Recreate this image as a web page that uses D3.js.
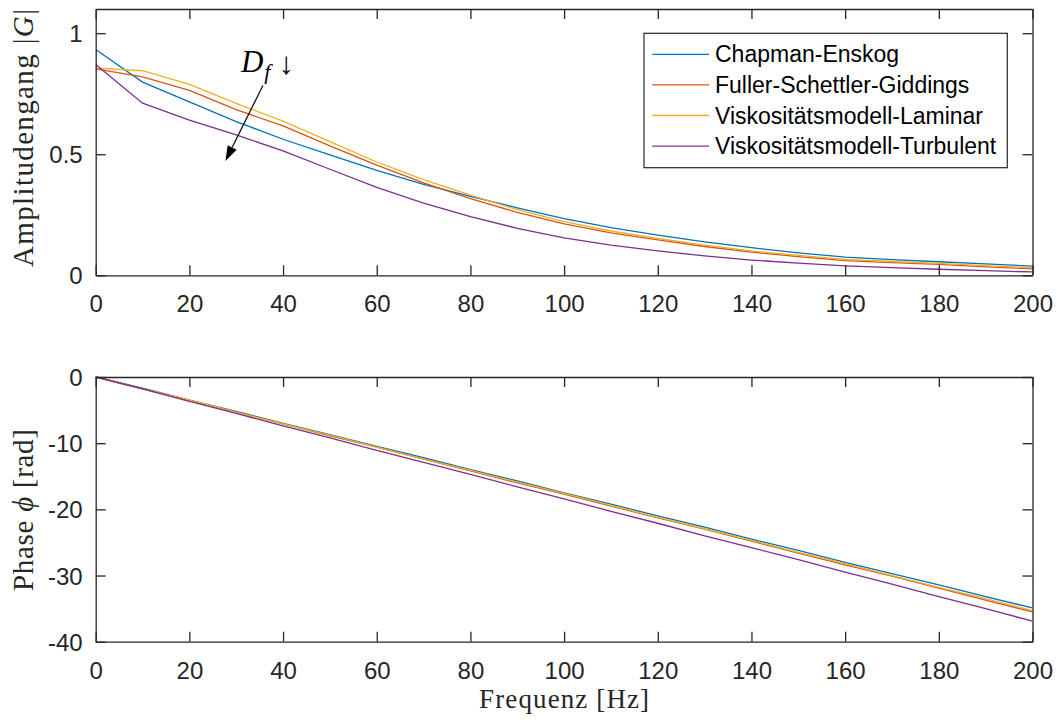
<!DOCTYPE html>
<html>
<head>
<meta charset="utf-8">
<script src="https://cdn.jsdelivr.net/npm/d3@7"></script>
<style>
  body { margin: 0; background: #ffffff; }
  svg { display: block; }
</style>
</head>
<body>
<svg id="chart" width="1057" height="720"></svg>
<script>
// Frequency grid [Hz]
const freq = [0, 10, 20, 30, 40, 50, 60, 70, 80, 90, 100, 110, 120, 130, 140, 150, 160, 170, 180, 190, 200];

// Diffusion models (legend order) and their colours
const seriesNames = [
  "Chapman-Enskog",
  "Fuller-Schettler-Giddings",
  "Viskositätsmodell-Laminar",
  "Viskositätsmodell-Turbulent"
];
const seriesColors = ["#0072BD", "#D95319", "#EDB120", "#7E2F8E"];

// Amplitude response |G|
const ampChapman   = [0.933, 0.798, 0.716, 0.635, 0.562, 0.497, 0.433, 0.376, 0.326, 0.279, 0.234, 0.197, 0.166, 0.138, 0.114, 0.093, 0.075, 0.065, 0.056, 0.047, 0.038];
const ampFuller    = [0.853, 0.820, 0.764, 0.684, 0.617, 0.535, 0.455, 0.382, 0.317, 0.260, 0.212, 0.175, 0.146, 0.119, 0.096, 0.077, 0.061, 0.052, 0.045, 0.035, 0.027];
const ampLaminar   = [0.856, 0.845, 0.789, 0.710, 0.637, 0.552, 0.468, 0.395, 0.331, 0.271, 0.222, 0.183, 0.152, 0.125, 0.101, 0.082, 0.066, 0.057, 0.049, 0.040, 0.031];
const ampTurbulent = [0.871, 0.711, 0.641, 0.580, 0.514, 0.438, 0.363, 0.298, 0.242, 0.194, 0.155, 0.125, 0.101, 0.080, 0.063, 0.050, 0.039, 0.032, 0.025, 0.019, 0.014];

// Phase response phi [rad]
const phaseChapman   = [0, -1.7, -3.5, -5.2, -7.0, -8.7, -10.5, -12.2, -14.0, -15.7, -17.5, -19.2, -21.0, -22.7, -24.5, -26.2, -28.0, -29.7, -31.4, -33.2, -34.9];
const phaseFuller    = [0, -1.8, -3.5, -5.3, -7.1, -8.9, -10.6, -12.4, -14.2, -16.0, -17.7, -19.5, -21.3, -23.0, -24.8, -26.6, -28.4, -30.1, -31.9, -33.7, -35.5];
const phaseLaminar   = [0, -1.8, -3.5, -5.3, -7.1, -8.8, -10.6, -12.4, -14.1, -15.9, -17.6, -19.4, -21.2, -22.9, -24.7, -26.5, -28.2, -30.0, -31.8, -33.5, -35.3];
const phaseTurbulent = [0, -1.8, -3.7, -5.5, -7.4, -9.2, -11.1, -12.9, -14.7, -16.6, -18.4, -20.3, -22.1, -24.0, -25.8, -27.6, -29.5, -31.3, -33.2, -35.0, -36.9];

// Tick values
const xTicks = [0, 20, 40, 60, 80, 100, 120, 140, 160, 180, 200];
const ampTicks = [0, 0.5, 1];
const phaseTicks = [0, -10, -20, -30, -40];

// Annotation arrow: from label towards decreasing D_f (data coords)
const arrowFrom = [35.7, 0.784];
const arrowTo = [27.7, 0.472];

const AXIS_COLOR = "#262626";
const TICK_FONT = "'Liberation Sans', Arial, Helvetica, sans-serif";
const SERIF_FONT = "'Liberation Serif', 'Times New Roman', serif";

const svg = d3.select("#chart");

const left = 95.7, right = 1032.5;
const x = d3.scaleLinear().domain([0, 200]).range([left, right]);

const yAmp = d3.scaleLinear().domain([0, 1.1]).range([275.3, 9]);
const yPhase = d3.scaleLinear().domain([-40, 0]).range([641.7, 377]);

function styleAxis(g) {
  g.attr("font-family", null).attr("font-size", null);
  g.selectAll("path.domain").attr("stroke", AXIS_COLOR).attr("stroke-width", 1.3);
  g.selectAll(".tick line").attr("stroke", AXIS_COLOR).attr("stroke-width", 1.3);
  g.selectAll(".tick text")
    .attr("fill", AXIS_COLOR)
    .style("font-family", TICK_FONT)
    .style("font-size", "24px");
}

function drawPanel(y, yTicks, series) {
  const [yb, yt] = y.range();
  const panel = svg.append("g");

  // Curves
  const line = d3.line().x((d, i) => x(freq[i])).y(d => y(d));
  series.forEach((vals, k) => {
    panel.append("path")
      .datum(vals)
      .attr("fill", "none")
      .attr("stroke", seriesColors[k])
      .attr("stroke-width", 1.3)
      .attr("d", line);
  });

  // Axes box with inward ticks on all four sides
  panel.append("g").attr("transform", `translate(0,${yb})`)
    .call(d3.axisBottom(x).tickValues(xTicks).tickSizeInner(-10).tickSizeOuter(0).tickPadding(20).tickFormat(d => String(d)))
    .call(styleAxis);
  panel.append("g").attr("transform", `translate(0,${yt})`)
    .call(d3.axisTop(x).tickValues(xTicks).tickSizeInner(-10).tickSizeOuter(0).tickFormat(""))
    .call(styleAxis);
  panel.append("g").attr("transform", `translate(${left},0)`)
    .call(d3.axisLeft(y).tickValues(yTicks).tickSizeInner(-10).tickSizeOuter(0).tickPadding(13).tickFormat(d => String(d)))
    .call(styleAxis)
    .selectAll(".tick text").attr("dy", "0.36em");
  panel.append("g").attr("transform", `translate(${right},0)`)
    .call(d3.axisRight(y).tickValues(yTicks).tickSizeInner(-10).tickSizeOuter(0).tickFormat(""))
    .call(styleAxis);
  return panel;
}

drawPanel(yAmp, ampTicks, [ampChapman, ampFuller, ampLaminar, ampTurbulent]);
drawPanel(yPhase, phaseTicks, [phaseChapman, phaseFuller, phaseLaminar, phaseTurbulent]);

// Axis titles (LaTeX-style serif)
const titleStyle = (s, size) => s.style("font-family", SERIF_FONT).style("font-size", size + "px").attr("fill", AXIS_COLOR)
  .attr("lengthAdjust", "spacing");

const yl1 = svg.append("text")
  .attr("text-anchor", "middle")
  .attr("transform", `translate(33,138) rotate(-90)`)
  .attr("textLength", 258)
  .call(titleStyle, 29);
yl1.append("tspan").text("Amplitudengang |");
yl1.append("tspan").style("font-style", "italic").text("G");
yl1.append("tspan").text("|");

const yl2 = svg.append("text")
  .attr("text-anchor", "middle")
  .attr("transform", `translate(33,510) rotate(-90)`)
  .attr("textLength", 162)
  .call(titleStyle, 29);
yl2.append("tspan").text("Phase ");
yl2.append("tspan").style("font-style", "italic").text("ϕ");
yl2.append("tspan").text(" [rad]");

svg.append("text")
  .attr("text-anchor", "middle")
  .attr("x", (left + right) / 2)
  .attr("y", 708)
  .attr("textLength", 170)
  .call(titleStyle, 27)
  .text("Frequenz [Hz]");

// Legend
const legend = svg.append("g");
const lgX = 644, lgY = 33.3, lgW = 363.3, lgH = 134.4, rowH = 30.6;
legend.append("rect")
  .attr("x", lgX).attr("y", lgY).attr("width", lgW).attr("height", lgH)
  .attr("fill", "#ffffff").attr("stroke", AXIS_COLOR).attr("stroke-width", 1.2);
seriesNames.forEach((name, k) => {
  const cy = lgY + 21 + k * rowH;
  legend.append("line")
    .attr("x1", lgX + 8.3).attr("x2", lgX + 65).attr("y1", cy).attr("y2", cy)
    .attr("stroke", seriesColors[k]).attr("stroke-width", 1.3);
  legend.append("text")
    .attr("x", lgX + 71).attr("y", cy + 8)
    .style("font-family", TICK_FONT).style("font-size", "23px")
    .attr("fill", "#000000")
    .text(name);
});

// Text arrow annotation "D_f ↓"
const ax0 = x(arrowFrom[0]), ay0 = yAmp(arrowFrom[1]);
const ax1 = x(arrowTo[0]), ay1 = yAmp(arrowTo[1]);
const ang = Math.atan2(ay1 - ay0, ax1 - ax0);
const headLen = 15, headHalf = 5;
const bx = ax1 - headLen * Math.cos(ang), by = ay1 - headLen * Math.sin(ang);
svg.append("line")
  .attr("x1", ax0).attr("y1", ay0).attr("x2", bx).attr("y2", by)
  .attr("stroke", "#000000").attr("stroke-width", 1.2);
svg.append("path")
  .attr("d", d3.line()([
    [ax1, ay1],
    [bx + headHalf * Math.sin(ang), by - headHalf * Math.cos(ang)],
    [bx - headHalf * Math.sin(ang), by + headHalf * Math.cos(ang)]
  ]) + "Z")
  .attr("fill", "#000000");

const ann = svg.append("text")
  .attr("x", ax0 - 22).attr("y", ay0 - 14)
  .style("font-family", SERIF_FONT).style("font-size", "31px").attr("fill", "#000000");
ann.append("tspan").style("font-style", "italic").text("D");
ann.append("tspan").style("font-style", "italic").style("font-size", "22px").attr("dx", 1).attr("dy", 7).text("f");
ann.append("tspan").attr("dx", 8).attr("dy", -5).style("font-size", "31px").text("↓");
</script>
</body>
</html>
